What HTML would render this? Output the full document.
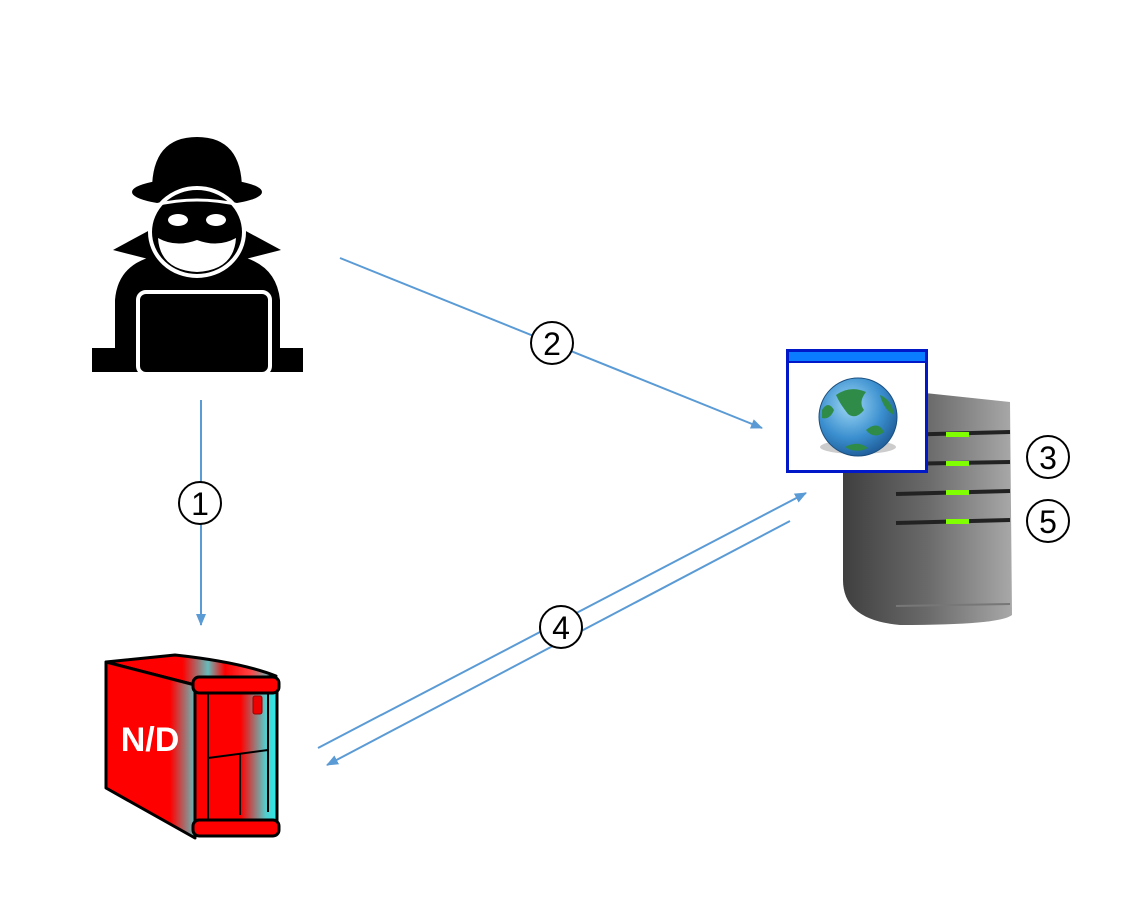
<!DOCTYPE html>
<html><head><meta charset="utf-8"><style>
html,body{margin:0;padding:0;background:#fff;}
svg{display:block;}
text{font-family:"Liberation Sans",sans-serif;}
</style></head><body>
<svg width="1148" height="922" viewBox="0 0 1148 922" xmlns="http://www.w3.org/2000/svg">
<defs>
<marker id="ah" markerWidth="12" markerHeight="10" refX="11" refY="5" orient="auto" markerUnits="userSpaceOnUse">
<path d="M0,0 L12,5 L0,10 Z" fill="#5b9bd5"/></marker>
<linearGradient id="sg" x1="0" x2="1"><stop offset="0" stop-color="#3f3f3f"/><stop offset="0.5" stop-color="#6a6a6a"/><stop offset="1" stop-color="#a8a8a8"/></linearGradient>
<linearGradient id="rl" x1="106" x2="195" gradientUnits="userSpaceOnUse"><stop offset="0" stop-color="#f00"/><stop offset="0.72" stop-color="#f00"/><stop offset="1" stop-color="#6bb"/></linearGradient>
<linearGradient id="rt" x1="106" x2="276" gradientUnits="userSpaceOnUse"><stop offset="0" stop-color="#f00"/><stop offset="0.45" stop-color="#f00"/><stop offset="0.6" stop-color="#6bb"/><stop offset="0.7" stop-color="#f00"/><stop offset="0.85" stop-color="#f44"/><stop offset="1" stop-color="#3dd"/></linearGradient>
<linearGradient id="rf" x1="195" x2="278" gradientUnits="userSpaceOnUse"><stop offset="0" stop-color="#f00"/><stop offset="0.55" stop-color="#f00"/><stop offset="0.85" stop-color="#5cc"/><stop offset="1" stop-color="#2ee"/></linearGradient>
<radialGradient id="gg" cx="0.4" cy="0.35" r="0.7"><stop offset="0" stop-color="#9fd8f5"/><stop offset="0.6" stop-color="#3b8fcf"/><stop offset="1" stop-color="#1d5a96"/></radialGradient>
</defs>

<!-- hacker -->
<g fill="#000">
<path d="M152,190 Q152,137 197,137 Q242,137 242,190 Z"/>
<ellipse cx="197" cy="192" rx="65" ry="14"/>
<path d="M113,250 L150,230 L160,262 Z"/>
<path d="M281,250 L244,230 L234,262 Z"/>
<path d="M115,372 L115,300 Q118,262 160,255 L234,255 Q276,262 280,300 L280,372 Z"/>
<rect x="92" y="348" width="48" height="24"/>
<rect x="258" y="348" width="45" height="24"/>
</g>
<ellipse cx="197" cy="232" rx="47" ry="44" fill="#000" stroke="#fff" stroke-width="4"/>
<path d="M158,238 Q160,270 197,272 Q234,270 236,238 Q218,248 197,240 Q176,248 158,238 Z" fill="#fff"/>
<path d="M155,205 Q197,195 239,205" stroke="#fff" stroke-width="3" fill="none"/>
<ellipse cx="178" cy="220" rx="10" ry="6" fill="#fff"/>
<ellipse cx="216" cy="220" rx="10" ry="6" fill="#fff"/>
<rect x="138" y="292" width="132" height="82" rx="8" fill="#000" stroke="#fff" stroke-width="4"/>

<!-- arrows -->
<g stroke="#5b9bd5" stroke-width="2" fill="none">
<line x1="201" y1="400" x2="201" y2="625" marker-end="url(#ah)"/>
<line x1="340" y1="258" x2="762" y2="428" marker-end="url(#ah)"/>
<line x1="318" y1="748" x2="806" y2="493" marker-end="url(#ah)"/>
<line x1="790" y1="521" x2="327" y2="765" marker-end="url(#ah)"/>
</g>
<g fill="#fff" stroke="#000" stroke-width="2">
<circle cx="200" cy="503" r="21"/><circle cx="552" cy="343" r="21"/>
<circle cx="561" cy="627" r="21"/><circle cx="1048" cy="457" r="21"/><circle cx="1048" cy="521" r="21"/>
</g>
<g font-size="32" text-anchor="middle">
<text x="200" y="515">1</text><text x="552" y="355">2</text><text x="561" y="639">4</text>
<text x="1048" y="469">3</text><text x="1048" y="533">5</text>
</g>

<!-- server -->
<path d="M843,400 Q850,392 925,393 L1010,402 L1012,615 Q1000,625 900,625 Q843,620 843,580 Z" fill="url(#sg)"/>
<g stroke="#222" stroke-width="4">
<line x1="896" y1="435" x2="1010" y2="432"/><line x1="896" y1="464" x2="1010" y2="462"/>
<line x1="896" y1="494" x2="1010" y2="491"/><line x1="896" y1="523" x2="1010" y2="520"/>
</g>
<g fill="#7fff00"><rect x="946" y="432" width="23" height="5"/><rect x="946" y="461" width="23" height="5"/><rect x="946" y="490" width="23" height="5"/><rect x="946" y="519" width="23" height="5"/></g>
<line x1="896" y1="606" x2="1010" y2="604" stroke="#777" stroke-width="2"/>

<!-- browser window -->
<rect x="787.5" y="350.5" width="139" height="121" fill="#fff" stroke="#0018c8" stroke-width="3"/>
<rect x="789" y="352" width="136" height="9" fill="#0a7cff"/>
<line x1="789" y1="362" x2="925" y2="362" stroke="#0018c8" stroke-width="2"/>
<ellipse cx="858" cy="447" rx="38" ry="7" fill="#ccc"/>
<circle cx="858" cy="417" r="39" fill="url(#gg)" stroke="#1b4f80" stroke-width="1"/>
<path d="M836,395 Q850,385 866,392 Q858,402 864,410 Q856,420 848,414 Q840,404 836,395 Z" fill="#2e8b48"/>
<path d="M880,395 Q892,400 894,415 Q884,410 880,395 Z" fill="#2e8b48"/>
<path d="M866,430 Q878,420 884,432 Q874,440 866,430 Z" fill="#2e8b48"/>
<path d="M822,410 Q828,400 834,410 Q830,420 822,418 Z" fill="#2e8b48"/>
<path d="M845,447 Q858,440 868,448 Q856,454 845,447 Z" fill="#2e8b48"/>

<!-- red server -->
<path d="M106,662 L175,655 Q240,662 276,676 L195,685 Z" fill="url(#rt)" stroke="#000" stroke-width="3" stroke-linejoin="round"/>
<path d="M106,662 L195,685 L195,838 L106,788 Z" fill="url(#rl)" stroke="#000" stroke-width="3" stroke-linejoin="round"/>
<rect x="195" y="685" width="82" height="145" fill="url(#rf)" stroke="#000" stroke-width="3"/>
<rect x="193" y="677" width="86" height="16" rx="6" fill="#f00" stroke="#000" stroke-width="3"/>
<rect x="193" y="820" width="86" height="16" rx="6" fill="#f00" stroke="#000" stroke-width="3"/>
<path d="M208,693 L208,820 M208,758 L268,750 M240,754 L240,815 M268,693 L268,812" stroke="#000" stroke-width="2" fill="none"/>
<rect x="253" y="696" width="9" height="18" rx="2" fill="#e00" stroke="#900"/>
<text x="150" y="751" font-size="34" font-weight="bold" fill="#fff" text-anchor="middle">N/D</text>
</svg>
</body></html>
